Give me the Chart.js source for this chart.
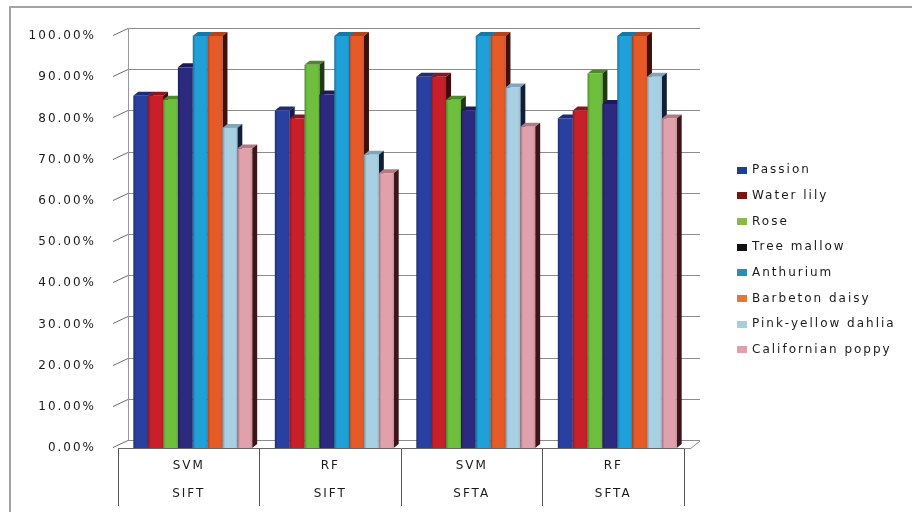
<!DOCTYPE html>
<html>
<head>
<meta charset="utf-8">
<script src="https://cdn.jsdelivr.net/npm/chart.js@4/dist/chart.umd.min.js"></script>
<style>
  html, body { margin: 0; padding: 0; background: #fff; overflow: hidden; }
  #wrap { position: relative; width: 912px; height: 512px; }
  #frame { position: absolute; left: 9px; top: 6px; width: 1000px; height: 1000px;
           border-top: 2px solid #a4a4a4; border-left: 2px solid #a4a4a4; box-sizing: border-box; }
  canvas { position: absolute; left: 0; top: 0; }
</style>
</head>
<body>
<div id="wrap">
  <div id="frame"></div>
  <canvas id="c" width="912" height="512"></canvas>
</div>
<script>
// Classifier / feature combinations (two-level category labels)
const categories = [['SVM', 'SIFT'], ['RF', 'SIFT'], ['SVM', 'SFTA'], ['RF', 'SFTA']];

// Recognition accuracy per flower class, in percent
const passion      = [85.5, 81.9, 90.1, 80.0];
const waterLily    = [85.5, 80.0, 90.1, 81.9];
const rose         = [84.5, 93.0, 84.5, 90.9];
const treeMallow   = [92.4, 85.8, 81.9, 83.5];
const anthurium    = [100, 100, 100, 100];
const barbetonDaisy = [100, 100, 100, 100];
const pinkYellowDahlia = [77.7, 71.2, 87.5, 90.1];
const californianPoppy = [72.7, 66.7, 78.0, 80.0];

const seriesNames = ['Passion', 'Water lily', 'Rose', 'Tree mallow', 'Anthurium',
                     'Barbeton daisy', 'Pink-yellow dahlia', 'Californian poppy'];
const seriesValues = [passion, waterLily, rose, treeMallow, anthurium,
                      barbetonDaisy, pinkYellowDahlia, californianPoppy];

// Y axis range and tick spacing
const yMin = 0, yMax = 100, yStep = 10;

// Face colours: front, top, side, and the legend swatch
const frontColors  = ['#2a40a0', '#c81f2a', '#6fbf3e', '#2c2a7e', '#1fa0d8', '#e65a28', '#a9d0e2', '#e0a0ac'];
const topColors    = ['#1c2c78', '#8e141c', '#4d8a2a', '#1c1a58', '#1678a4', '#b3441c', '#7fa6bc', '#b47a84'];
const sideColors   = ['#111a4c', '#420a0e', '#1f3a12', '#0b0b2c', '#0a3248', '#3e1008', '#0f1f3a', '#3e1418'];
const legendColors = ['#1f3f8f', '#7a1515', '#8ab84a', '#111111', '#2a8fb0', '#e0783a', '#a8cce0', '#e0a0a8'];

// 3D projection settings
const BAR_DX = 5, BAR_DY = 4;     // bar depth
const WALL_DX = 10, WALL_DY = 8;  // back wall offset
const BAR_SHIFT = 4;

const FONT = '12px "DejaVu Sans"';
const SPACING = '2px';

function shade(hex, f) {
  const n = parseInt(hex.slice(1), 16);
  let r = (n >> 16) & 255, g = (n >> 8) & 255, b = n & 255;
  r = Math.round(r * f); g = Math.round(g * f); b = Math.round(b * f);
  return `rgb(${Math.min(255, r)},${Math.min(255, g)},${Math.min(255, b)})`;
}

const textSpacing = {
  id: 'textSpacing',
  beforeUpdate(chart) { chart.ctx.letterSpacing = SPACING; },
  beforeDraw(chart) { chart.ctx.letterSpacing = SPACING; }
};

// Series key in the space right of the plot
const sideLegend = {
  id: 'sideLegend',
  afterDraw(chart) {
    const { ctx, chartArea: a } = chart;
    const step = 25.7;
    const x0 = a.right + 53;
    const yc = chart.height / 2 + 4;
    const names = chart.data.datasets.map(d => d.label);
    const y0 = yc - (names.length - 1) * step / 2;
    ctx.save();
    ctx.letterSpacing = SPACING;
    ctx.font = FONT;
    ctx.textBaseline = 'middle';
    ctx.textAlign = 'left';
    names.forEach((name, i) => {
      const y = y0 + i * step;
      ctx.fillStyle = legendColors[i];
      ctx.fillRect(x0, Math.round(y - 3.5), 10, 7);
      ctx.fillStyle = '#1a1a1a';
      ctx.fillText(name, x0 + 15, y);
    });
    ctx.restore();
  }
};

const depth3d = {
  id: 'depth3d',
  beforeDatasetsDraw(chart) {
    const { ctx, chartArea: a, scales: { x, y } } = chart;
    ctx.save();
    ctx.letterSpacing = '0px';

    // back wall gridlines and the slanted ticks joining the front axis
    ctx.lineWidth = 1;
    y.ticks.forEach(t => {
      const py = Math.round(y.getPixelForValue(t.value)) - WALL_DY + 0.5;
      ctx.strokeStyle = '#8c8c8c';
      ctx.beginPath();
      ctx.moveTo(a.left + WALL_DX, py);
      ctx.lineTo(a.right + WALL_DX + 6, py);
      ctx.stroke();
      ctx.strokeStyle = '#6a6a6a';
      ctx.beginPath();
      ctx.moveTo(a.left - 5, py + WALL_DY - 1);
      ctx.lineTo(a.left + WALL_DX, py);
      ctx.stroke();
    });
    // wall left edge
    ctx.strokeStyle = '#9a9a9a';
    ctx.beginPath();
    ctx.moveTo(a.left + WALL_DX + 0.5, y.getPixelForValue(yMax) - WALL_DY);
    ctx.lineTo(a.left + WALL_DX + 0.5, y.getPixelForValue(yMin) - WALL_DY);
    ctx.stroke();
    // floor right edge
    ctx.strokeStyle = '#8c8c8c';
    ctx.beginPath();
    ctx.moveTo(a.right + 6, a.bottom + 1);
    ctx.lineTo(a.right + WALL_DX + 6, a.bottom - WALL_DY + 1);
    ctx.stroke();
    ctx.beginPath();
    ctx.moveTo(a.right, a.bottom + 0.5);
    ctx.lineTo(a.right + 6, a.bottom + 0.5);
    ctx.stroke();

    // bars: left to right inside each group so nearer faces overlap
    const metas = chart.data.datasets.map((_, i) => chart.getDatasetMeta(i));
    const n = chart.data.labels.length;
    for (let j = 0; j < n; j++) {
      metas.forEach((meta, i) => {
        const bar = meta.data[j];
        if (!bar) return;
        const p = bar.getProps(['x', 'y', 'base', 'width'], true);
        const l = p.x - p.width / 2 + BAR_SHIFT, r = p.x + p.width / 2 + BAR_SHIFT;
        const t = p.y, b = p.base;
        // top face
        ctx.fillStyle = topColors[i];
        ctx.beginPath();
        ctx.moveTo(l, t); ctx.lineTo(l + BAR_DX, t - BAR_DY);
        ctx.lineTo(r + BAR_DX, t - BAR_DY); ctx.lineTo(r, t); ctx.closePath();
        ctx.fill();
        // side face
        ctx.fillStyle = sideColors[i];
        ctx.beginPath();
        ctx.moveTo(r, t); ctx.lineTo(r + BAR_DX, t - BAR_DY);
        ctx.lineTo(r + BAR_DX, b - BAR_DY); ctx.lineTo(r, b); ctx.closePath();
        ctx.fill();
        // front face
        const g = ctx.createLinearGradient(l, 0, r, 0);
        g.addColorStop(0, shade(frontColors[i], 0.72));
        g.addColorStop(0.18, frontColors[i]);
        g.addColorStop(0.85, frontColors[i]);
        g.addColorStop(1, shade(frontColors[i], 0.9));
        ctx.fillStyle = g;
        ctx.fillRect(l, t, r - l, b - t);
      });
    }
    ctx.restore();
    return false;
  }
};

const datasets = seriesNames.map((name, i) => ({
  label: name,
  data: seriesValues[i],
  backgroundColor: frontColors[i],
  borderWidth: 0,
  categoryPercentage: 0.84,
  barPercentage: 1.0,
  yAxisID: 'y'
}));

new Chart(document.getElementById('c'), {
  type: 'bar',
  data: { labels: categories, datasets },
  plugins: [textSpacing, depth3d, sideLegend],
  options: {
    responsive: false,
    animation: false,
    events: [],
    layout: { padding: { top: 36, bottom: 0, left: 0, right: 0 } },
    plugins: {
      tooltip: { enabled: false },
      legend: { display: false }
    },
    scales: {
      x: {
        grid: { offset: true, drawOnChartArea: false, tickLength: 58, color: '#555', lineWidth: 1 },
        border: { display: true, color: '#666' },
        ticks: {
          padding: -54,
          color: '#1a1a1a',
          font: { family: 'DejaVu Sans', size: 12, lineHeight: 2.33 },
          maxRotation: 0
        },
        afterFit(s) { s.height = 64; }
      },
      y: {
        min: yMin, max: yMax,
        grid: { display: false },
        border: { display: false },
        ticks: {
          stepSize: yStep,
          padding: 14,
          color: '#1a1a1a',
          font: { family: 'DejaVu Sans', size: 12 },
          callback: v => v.toFixed(2) + '%'
        },
        afterFit(s) { s.width = 118; }
      },
      gapRight: {
        type: 'linear',
        position: 'right',
        display: true,
        grid: { display: false },
        border: { display: false },
        ticks: { display: false },
        afterFit(s) { s.width = 228; }
      }
    }
  }
});
</script>
</body>
</html>
